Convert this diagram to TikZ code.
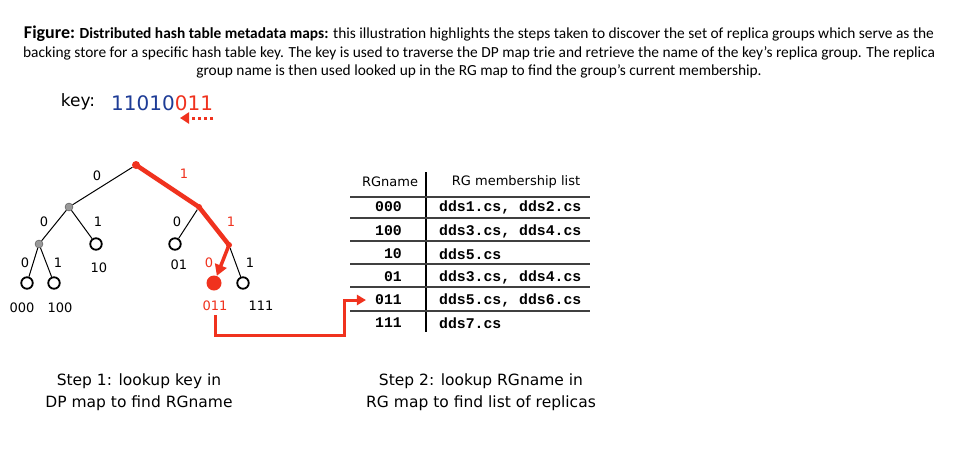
\documentclass[tikz,border=0pt]{standalone}
\usepackage{fontspec}
\setmainfont{Carlito}
\newfontfamily\djv{DejaVu Sans}
\newfontfamily\monof{Liberation Mono}
\usetikzlibrary{arrows.meta}
\definecolor{kred}{HTML}{F0321E}
\definecolor{kblue}{HTML}{1E3C96}
\begin{document}
\begin{tikzpicture}[x=1pt,y=-1pt,
  leafnode/.style={circle,draw,line width=1.8pt,minimum size=11.5pt,inner sep=0},
  gdot/.style={circle,fill=gray!80,draw=gray!60!black,line width=0.4pt,minimum size=8pt,inner sep=0},
  rdot/.style={circle,fill=kred,minimum size=8pt,inner sep=0},
  rleaf/.style={circle,fill=kred,minimum size=15pt,inner sep=0},
  tedge/.style={line width=1pt},
  redpath/.style={kred,line width=4.5pt,line cap=round,line join=round},
  lbl/.style={font=\djv\fontsize{13}{15}\selectfont,inner sep=0},
  rlbl/.style={lbl,text=kred},
  hand/.style={font=\djv\fontsize{15.5}{22}\selectfont,align=center,inner sep=0},
  hdr/.style={font=\djv\fontsize{13}{15}\selectfont,inner sep=0},
  cell/.style={font=\monof\bfseries\fontsize{14.8}{16}\selectfont,inner sep=0},
  trule/.style={line width=1.6pt,black!75},
  captxt/.style={font=\fontsize{15.4}{18}\selectfont,inner sep=0}
]
\useasboundingbox[fill=white] (0,0) rectangle (957,448);

% caption
\node[captxt] (cap1) at (479,34) {{\fontsize{18}{20}\selectfont\bfseries Figure:} \textbf{Distributed hash table metadata maps:} this illustration highlights the steps taken to discover the set of replica groups which serve as the};
\node[captxt] (cap2) at (479,53) {backing store for a specific hash table key. The key is used to traverse the DP map trie and retrieve the name of the key's replica group. The replica};
\node[captxt] (cap3) at (479,71) {group name is then used looked up in the RG map to find the group's current membership.};

% key
\node[font=\djv\fontsize{17}{20}\selectfont,inner sep=0] (keylbl) at (78,102) {key:};
\node[font=\djv\fontsize{20}{22}\selectfont,inner sep=0,anchor=west] (keybits) at (111,103) {\textcolor{kblue}{11010}\textcolor{kred}{011}};
\coordinate (ka1) at (213,118);
\coordinate (ka2) at (180,118);
\draw[kred,line width=3pt,dash pattern=on 3.5pt off 2.5pt,-{Triangle[length=9pt,width=11pt]}] (ka1) -- (ka2);

% tree nodes
\node[rdot] (root) at (136,165) {};
\node[gdot] (lc) at (69,207) {};
\node[rdot,minimum size=6pt] (rc) at (199,207) {};
\node[gdot] (ll) at (39,244) {};
\node[leafnode] (n10) at (96,244) {};
\node[leafnode] (n01) at (175,244) {};
\node[rdot,minimum size=6pt] (rr) at (229,245) {};
\node[leafnode] (n000) at (27,283) {};
\node[leafnode] (n100) at (54,283) {};
\node[rleaf] (n011) at (214,283) {};
\node[leafnode] (n111) at (243,283) {};

% tree edges
\draw[tedge] (root) -- (lc);
\draw[tedge] (lc) -- (ll);
\draw[tedge] (lc) -- (n10);
\draw[tedge] (ll) -- (n000);
\draw[tedge] (ll) -- (n100);
\draw[tedge] (rc) -- (n01);
\draw[tedge] (rr) -- (n111);
\draw[redpath] (root.center) -- (rc.center) -- (rr.center);
\draw[kred,line width=3.5pt,-{Triangle[length=11pt,width=12pt]}] (rr.center) -- (n011);

% edge labels
\node[lbl] (e1) at (97,176) {0};
\node[rlbl] (e2) at (184,174) {1};
\node[lbl] (e3) at (44,222) {0};
\node[lbl] (e4) at (98,222) {1};
\node[lbl] (e5) at (177,222) {0};
\node[rlbl] (e6) at (231,222) {1};
\node[lbl] (e7) at (25,263) {0};
\node[lbl] (e8) at (58,263) {1};
\node[rlbl] (e9) at (209,263) {0};
\node[lbl] (e10) at (250,263) {1};

% leaf labels
\node[lbl] (l10) at (99,268) {10};
\node[lbl] (l01) at (179,265) {01};
\node[lbl] (l000) at (22,308) {000};
\node[lbl] (l100) at (60,308) {100};
\node[rlbl] (l011) at (215,306) {011};
\node[lbl] (l111) at (261,306) {111};

% table
\node[hdr] (h1) at (390,182) {RGname};
\node[hdr] (h2) at (516,182) {RG membership list};
\coordinate (vt) at (426,172);
\coordinate (vb) at (426,332);
\draw[line width=1.8pt] (vt) -- (vb);
\foreach \y in {197,218,241,264,287,311} {
  \draw[trule] (350,\y) -- (590,\y);
}
\node[cell,anchor=east] (r1) at (402,207) {000};
\node[cell,anchor=east] (r2) at (402,231) {100};
\node[cell,anchor=east] (r3) at (402,254) {10};
\node[cell,anchor=east] (r4) at (402,277) {01};
\node[cell,anchor=east] (r5) at (402,300) {011};
\node[cell,anchor=east] (r6) at (402,323) {111};
\node[cell,anchor=west] (m1) at (439,207) {dds1.cs, dds2.cs};
\node[cell,anchor=west] (m2) at (439,231) {dds3.cs, dds4.cs};
\node[cell,anchor=west] (m3) at (439,254) {dds5.cs};
\node[cell,anchor=west] (m4) at (439,277) {dds3.cs, dds4.cs};
\node[cell,anchor=west] (m5) at (439,300) {dds5.cs, dds6.cs};
\node[cell,anchor=west] (m6) at (439,323) {dds7.cs};

% red connector
\coordinate (bend) at (344,335);
\draw[kred,line width=3pt,shorten <=4pt,shorten >=9pt,-{Triangle[length=9pt,width=10pt]}] (l011.south) |- (bend) |- (r5.west);

% steps
\node[hand] (step1) at (139,392) {Step 1: lookup key in\\DP map to find RGname};
\node[hand] (step2) at (481,392) {Step 2: lookup RGname in\\RG map to find list of replicas};
\end{tikzpicture}
\end{document}
